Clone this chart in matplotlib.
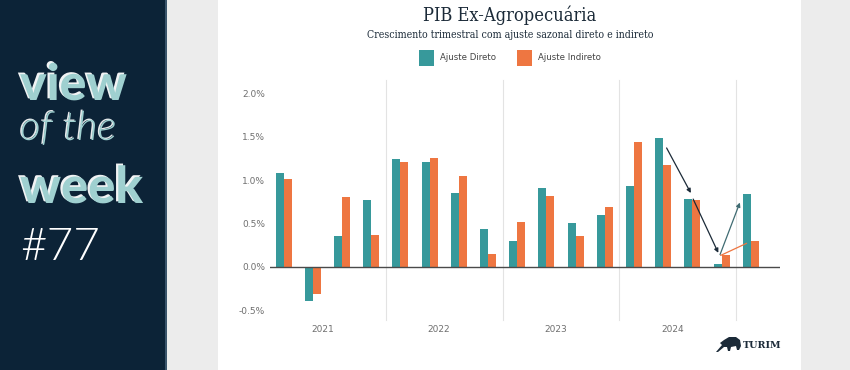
import numpy as np
import matplotlib
matplotlib.use("Agg")
import matplotlib.pyplot as plt
from matplotlib.patches import Rectangle, Polygon
import matplotlib.patheffects as pe

# Quarterly growth (%), 2021Q1 .. 2025Q1
quarters = ["2021T1", "2021T2", "2021T3", "2021T4",
            "2022T1", "2022T2", "2022T3", "2022T4",
            "2023T1", "2023T2", "2023T3", "2023T4",
            "2024T1", "2024T2", "2024T3", "2024T4",
            "2025T1"]
ajuste_direto = [1.08, -0.39, 0.35, 0.77,
                 1.24, 1.21, 0.85, 0.44,
                 0.30, 0.91, 0.50, 0.60,
                 0.93, 1.49, 0.78, 0.03,
                 0.84]
ajuste_indireto = [1.01, -0.31, 0.80, 0.37,
                   1.21, 1.25, 1.05, 0.15,
                   0.52, 0.81, 0.35, 0.69,
                   1.44, 1.17, 0.77, 0.14,
                   0.30]
years = ["2021", "2022", "2023", "2024"]
y_ticks = [-0.5, 0.0, 0.5, 1.0, 1.5, 2.0]

TEAL = "#37999b"
ORANGE = "#ee7641"
NAVY = "#0c2337"
INK = "#1b2a38"
GREY_TXT = "#6f6f6f"

W, H = 850, 370
fig = plt.figure(figsize=(W / 100, H / 100), dpi=100, facecolor="#ececec")


def px_rect(x0, y0, x1, y1, color, z=-10):
    """Rectangle in pixel coordinates (y from top)."""
    fig.patches.append(Rectangle((x0 / W, 1 - y1 / H), (x1 - x0) / W, (y1 - y0) / H,
                                 transform=fig.transFigure, facecolor=color,
                                 edgecolor="none", zorder=z))


# background panels
px_rect(0, 0, 165, H, NAVY)
px_rect(165, 0, 166.5, H, "#3a556b")
px_rect(218, 0, 801, H, "white")

# left panel branding
shadow = [pe.withSimplePatchShadow(offset=(-1.6, 1.2), shadow_rgbFace="white", alpha=0.95)]
fig.text(20 / W, 1 - 100 / H, "view", family="Lato", weight="black", fontsize=36,
         color="#9fd0d0", va="baseline", ha="left", path_effects=shadow)
fig.text(20 / W, 1 - 140 / H, "of the", family="Lato", style="italic", weight=300,
         fontsize=29, color="#9fd0d0", va="baseline", ha="left",
         path_effects=[pe.withSimplePatchShadow(offset=(-1.0, 0.8), shadow_rgbFace="white", alpha=0.9)])
fig.text(20 / W, 1 - 203 / H, "week", family="Lato", weight="black", fontsize=36.5,
         color="#9fd0d0", va="baseline", ha="left", path_effects=shadow)
fig.text(20 / W, 1 - 260 / H, "#77", family="Lato", weight=300, fontsize=33,
         color="white", va="baseline", ha="left")

# titles
fig.text(510 / W, 1 - 21 / H, "PIB Ex-Agropecuária", family="DejaVu Serif",
         fontstretch="condensed", fontsize=13.1, color=INK, ha="center", va="baseline")
fig.text(510 / W, 1 - 37.5 / H, "Crescimento trimestral com ajuste sazonal direto e indireto",
         family="DejaVu Serif", fontstretch="condensed", fontsize=7.6, color=INK,
         ha="center", va="baseline")

# legend
px_rect(418.5, 50.5, 433.5, 65.5, TEAL, z=1)
px_rect(516.5, 50.5, 531.5, 65.5, ORANGE, z=1)
fig.text(440 / W, 1 - 58 / H, "Ajuste Direto", fontsize=6.2, color="#444444", va="center")
fig.text(538.5 / W, 1 - 58 / H, "Ajuste Indireto", fontsize=6.2, color="#444444", va="center")

# chart axes: left 270px, right 780px, top 75px, bottom 335px
ax = fig.add_axes([270 / W, 1 - 335 / H, 510 / W, 260 / H])
ax.patch.set_alpha(0)
group_px = 29.2
x0_px = 283.5
ax.set_xlim((270 - x0_px) / group_px, (780 - x0_px) / group_px)
zero_px = 266.7
per_pct = 86.67
ax.set_ylim((zero_px - 335) / per_pct, (zero_px - 75) / per_pct)

x = np.arange(len(quarters))
bw = 8 / group_px
ax.bar(x - bw / 2, ajuste_direto, width=bw, color=TEAL, zorder=3)
ax.bar(x + bw / 2, ajuste_indireto, width=bw, color=ORANGE, zorder=3)

ax.axhline(0, color="#4a4a4a", lw=1.0, zorder=4)
for k in range(1, len(years) + 1):
    ax.axvline(4 * k - 0.5, ymin=15 / 260, ymax=255 / 260, color="#e3e3e3", lw=0.8, zorder=1)
for k, yr in enumerate(years):
    ax.text(4 * k + 1.33, (zero_px - 329) / per_pct, yr, ha="center", va="center",
            fontsize=6.5, color=GREY_TXT)

ax.set_xticks([])
ax.set_yticks(y_ticks)
ax.set_yticklabels([f"{v:.1f}%" for v in y_ticks])
ax.tick_params(axis="y", length=0, pad=3.6, labelsize=6.5, labelcolor=GREY_TXT)
for s in ax.spines.values():
    s.set_visible(False)

# trend arrows between the last quarters
d, o = ajuste_direto, ajuste_indireto
arrows = [
    ((13.12, d[13] - 0.12), (13.95, d[14] + 0.07), INK, "-|>"),
    ((14.03, d[14]), (14.89, o[15] + 0.02), INK, "-|>"),
    ((14.95, o[15]), (15.63, d[16] - 0.10), "#3f6b72", "-|>"),
    ((14.97, o[15] - 0.01), (15.86, o[16] - 0.03), ORANGE, "-"),
]
for start, end, col, style in arrows:
    ax.annotate("", xy=end, xytext=start, zorder=5,
                arrowprops=dict(arrowstyle=style, color=col, lw=0.9,
                                shrinkA=0, shrinkB=0, mutation_scale=6))

# TURIM logo
bull = np.array([[716, 352], [722, 345], [720, 343], [724, 340], [729, 337], [736, 337],
                 [740, 340], [741, 346], [739, 350], [737, 350], [736, 346], [731, 347],
                 [730, 351], [728, 351], [727, 347], [724, 347], [718, 352]])
fig.patches.append(Polygon(np.column_stack([bull[:, 0] / W, 1 - bull[:, 1] / H]),
                           closed=True, transform=fig.transFigure, facecolor=INK,
                           edgecolor="none"))
fig.text(743 / W, 1 - 346 / H, "TURIM", family="DejaVu Serif", weight="bold",
         fontsize=6.8, color=INK, va="center", ha="left")

fig.savefig("out.png", dpi=100, facecolor=fig.get_facecolor())
